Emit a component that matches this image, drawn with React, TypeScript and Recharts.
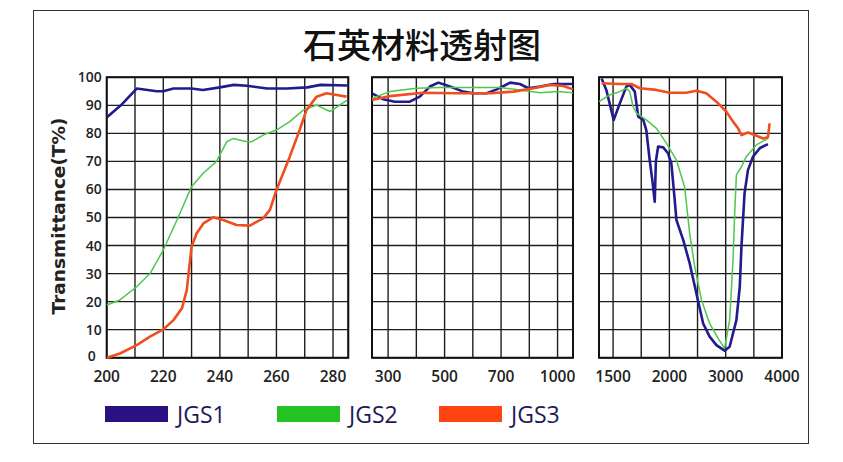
import { CartesianGrid, Line, LineChart, ReferenceArea, XAxis, YAxis } from "recharts";

type Pt = [number, number];

// wavelength (nm) / transmittance (%)
const JGS1_UV: Pt[] = [
  [200, 85.7], [205, 90], [210.6, 96], [217.7, 95], [220, 95], [223.6, 96], [230, 96], [234, 95.5],
  [240, 96.4], [244.9, 97.3], [249.6, 97], [256.7, 96], [263.8, 96], [270.9, 96.4], [275.6, 97.3], [285, 97.1],
];
const JGS2_UV: Pt[] = [
  [200, 18.8], [204.7, 20.6], [210.6, 25.3], [215.3, 30], [220, 38.4], [224.8, 49], [230, 61], [234.1, 65.8],
  [238.8, 70], [242.4, 77], [244.8, 78.2], [249.5, 77], [251.2, 77], [255.3, 79.4], [260, 81.2], [264.7, 84.2],
  [269.5, 88.3], [274.2, 90.1], [278.9, 87.8], [285, 91.9],
];
const JGS3_UV: Pt[] = [
  [200, 0], [204.7, 1.5], [210.6, 4.5], [215.3, 7.5], [220, 10.1], [223.6, 13.4], [226.6, 17.6], [228.3, 24.1],
  [230, 39.6], [231.8, 44.4], [234.2, 47.9], [237.7, 50.1], [241.2, 49.1], [245.9, 47.3], [250.6, 47.1],
  [255.3, 49.7], [257.7, 52.7], [260, 59.8], [264.7, 71.7], [268.2, 81.2], [270.6, 88.3], [274.2, 93.1],
  [277.7, 94.3], [281.3, 93.7], [284.8, 93.1],
];

const JGS1_VIS: Pt[] = [
  [243, 94.3], [282, 92.2], [324, 91.3], [377, 91.3], [412, 93.1], [448, 96.7], [478, 98.1], [519, 96.7],
  [566, 94.9], [602, 94.3], [649, 94.3], [685, 95.7], [748, 98.1], [800, 97.6], [845, 96.1], [907, 96.7],
  [979, 97.6], [1082, 97.6],
];
const JGS2_VIS: Pt[] = [
  [243, 92.5], [306, 94.9], [400, 96.1], [483, 96.4], [602, 96.4], [696, 96.4], [800, 95.5], [907, 94.5],
  [997, 94.9], [1082, 94.5],
];
const JGS3_VIS: Pt[] = [
  [243, 91.9], [306, 93.3], [424, 94.5], [543, 94.3], [662, 94.3], [766, 94.9], [872, 96.1], [961, 97.3],
  [1031, 96.9], [1082, 95.7],
];

const JGS1_IR: Pt[] = [
  [1398, 99.6], [1440, 95.5], [1505, 84.8], [1560, 90.7], [1618, 96.7], [1648, 97.3], [1693, 94.9], [1723, 86],
  [1768, 84.8], [1795, 81.2], [1825, 70.5], [1848, 63.4], [1870, 55.6], [1880, 70], [1900, 75.3], [1945, 75],
  [1988, 72.9], [2035, 69.3], [2095, 56.2], [2125, 49.1], [2245, 42], [2360, 33.7], [2480, 22.9], [2600, 12.2],
  [2715, 7.5], [2835, 4.5], [2980, 2.5], [3070, 3.9], [3190, 13.4], [3250, 25.3], [3280, 39.6], [3335, 58.6],
  [3395, 66.9], [3485, 71.7], [3605, 74.7], [3750, 76.2],
];
const JGS2_IR: Pt[] = [
  [1375, 91.3], [1470, 93.7], [1560, 94.9], [1618, 96.1], [1648, 94.9], [1678, 89.5], [1708, 87.2],
  [1795, 84.8], [1885, 81.8], [1973, 76.5], [2125, 70.5], [2270, 61], [2360, 44.4], [2450, 32.5],
  [2570, 20.6], [2715, 12.2], [2865, 6.9], [2980, 3.3], [3070, 13.4], [3130, 34.8], [3160, 51.5],
  [3190, 65.2], [3280, 68.1], [3365, 71.7], [3545, 75.9], [3750, 78.2],
];
const JGS3_IR: Pt[] = [
  [1398, 97.9], [1560, 97.6], [1663, 97.6], [1738, 96.1], [1885, 95.5], [2005, 94.5], [2300, 94.5],
  [2480, 95.2], [2655, 94.3], [2835, 91.3], [3010, 87.8], [3130, 84.2], [3220, 81.8], [3280, 79.4],
  [3395, 80.3], [3515, 79.4], [3665, 78.2], [3750, 78.6], [3780, 83.6],
];

const UV_GRID = [200, 210, 220, 230, 240, 250, 260, 270, 280];
const UV_LABELS = [200, 220, 240, 260, 280];
const VIS_GRID = [300, 400, 500, 600, 700, 850, 1000];
const VIS_LABELS = [300, 500, 700, 1000];
const IR_GRID = [1500, 1750, 2000, 2500, 3000, 3500, 4000];
const IR_LABELS = [1500, 2000, 3000, 4000];
const Y_TICKS = [0, 10, 20, 30, 40, 50, 60, 70, 80, 90, 100];

const SERIES = [
  { name: "JGS1", line: "#211b8e", swatch: "#2a1080", width: 2.6 },
  { name: "JGS2", line: "#4cc84c", swatch: "#22c322", width: 1.5 },
  { name: "JGS3", line: "#f04e1e", swatch: "#ff4412", width: 2.6 },
];

// the axis breaks are not evenly spaced: map wavelength to grid slots piecewise
function piecewise(stops: number[], slots: number[]) {
  return (w: number) => {
    let i = 0;
    while (i < stops.length - 2 && w > stops[i + 1]) i++;
    const k = (slots[i + 1] - slots[i]) / (stops[i + 1] - stops[i]);
    return slots[i] + (w - stops[i]) * k;
  };
}

const identity = (w: number) => w;
const visPos = piecewise([300, 700, 1000], [0, 4, 6]);
const irPos = piecewise([1500, 2000, 4000], [0, 2, 6]);

const tickFont = { fontSize: 15.5, fill: "#222", fontFamily: "Open Sans", fontWeight: 600 };
const TOP = 60;

// y tick; the "0" sits a little to the left, clear of the "200" below it
function YTick({ x, y, payload, show }: { x?: number; y?: number; payload?: { value: number }; show: boolean }) {
  if (!show || x == null || y == null || !payload) return <g />;
  const v = payload.value;
  return (
    <text
      x={v === 0 ? x - 6 : x}
      y={v === 0 ? y - 2 : y}
      dy="0.355em"
      textAnchor="end"
      fontFamily="Open Sans"
      fontWeight={600}
      fontSize={14}
      fill="#222"
    >
      {v}
    </text>
  );
}

interface PanelProps {
  left: number;
  width: number;
  marginLeft: number;
  marginRight: number;
  yWidth: number;
  showY: boolean;
  domain: [number, number];
  grid: number[];
  labels: number[];
  toX: (w: number) => number;
  lines: Pt[][];
}

function Panel({ left, width, marginLeft, marginRight, yWidth, showY, domain, grid, labels, toX, lines }: PanelProps) {
  const ticks = grid.map(toX);
  const labelAt = new Map(labels.map((l) => [toX(l).toFixed(3), String(l)]));
  const xDomain: [number, number] = [toX(domain[0]), toX(domain[1])];
  return (
    <div style={{ position: "absolute", left, top: TOP }}>
      <LineChart width={width} height={340} margin={{ top: 17.3, right: marginRight, bottom: 12.3, left: marginLeft }}>
        <CartesianGrid stroke="#1e1e1e" strokeWidth={1.4} />
        <XAxis
          type="number"
          dataKey="x"
          domain={xDomain}
          ticks={ticks}
          interval={0}
          allowDataOverflow
          height={30}
          axisLine={false}
          tickLine={false}
          tickSize={0}
          tickMargin={13}
          tick={tickFont}
          tickFormatter={(v: number) => labelAt.get(v.toFixed(3)) ?? ""}
        />
        <YAxis
          type="number"
          domain={[0, 100]}
          ticks={Y_TICKS}
          interval={0}
          width={yWidth}
          axisLine={false}
          tickLine={false}
          tickSize={0}
          tickMargin={5}
          tick={(p: any) => <YTick {...p} show={showY} />}
        />
        <ReferenceArea x1={xDomain[0]} x2={xDomain[1]} y1={0} y2={100} fill="none" stroke="#111" strokeWidth={2} ifOverflow="visible" />
        {lines.map((pts, i) => (
          <Line
            key={SERIES[i].name}
            data={pts.map(([w, t]) => ({ x: toX(w), t }))}
            dataKey="t"
            type="linear"
            dot={false}
            activeDot={false}
            stroke={SERIES[i].line}
            strokeWidth={SERIES[i].width}
            strokeLinejoin="round"
            isAnimationActive={false}
          />
        ))}
      </LineChart>
    </div>
  );
}

export default function App() {
  return (
    <div style={{ position: "absolute", left: 0, top: 0, width: 843, height: 462, background: "#fff", overflow: "hidden" }}>
      <div
        style={{
          position: "absolute",
          left: 33,
          top: 10,
          width: 774,
          height: 432,
          border: "1.5px solid #333",
        }}
      />
      <svg width={843} height={462} style={{ position: "absolute", left: 0, top: 0 }}>
        <text x={422} y={43} textAnchor="middle" dominantBaseline="central" fontFamily="Noto Sans CJK SC" fontWeight={500} fontSize={34} fill="#111">
          石英材料透射图
        </text>
        <text
          x={58}
          y={216}
          transform="rotate(-90 58 216)"
          textAnchor="middle"
          dominantBaseline="central"
          fontFamily="DejaVu Sans"
          fontWeight="bold"
          fontSize={18.5}
          fill="#222"
        >
          Transmittance(T%)
        </text>
      </svg>
      <Panel
        left={0}
        width={353.3}
        marginLeft={0}
        marginRight={5}
        yWidth={106.7}
        showY
        domain={[200, 285.4]}
        grid={UV_GRID}
        labels={UV_LABELS}
        toX={identity}
        lines={[JGS1_UV, JGS2_UV, JGS3_UV]}
      />
      <Panel
        left={340.3}
        width={235}
        marginLeft={2}
        marginRight={2}
        yWidth={30}
        showY={false}
        domain={[243, 1082]}
        grid={VIS_GRID}
        labels={VIS_LABELS}
        toX={visPos}
        lines={[JGS1_VIS, JGS2_VIS, JGS3_VIS]}
      />
      <Panel
        left={567.3}
        width={245}
        marginLeft={2}
        marginRight={30}
        yWidth={30}
        showY={false}
        domain={[1375, 4000]}
        grid={IR_GRID}
        labels={IR_LABELS}
        toX={irPos}
        lines={[JGS1_IR, JGS2_IR, JGS3_IR]}
      />
      <div style={{ position: "absolute", left: 105, top: 399, display: "flex", alignItems: "center", fontFamily: "Open Sans", fontSize: 23, color: "#1e1a5a" }}>
        {SERIES.map((s, i) => (
          <div key={s.name} style={{ display: "flex", alignItems: "center", width: i < 2 ? (i === 0 ? 172 : 162) : undefined }}>
            <span style={{ display: "inline-block", width: 63, height: 16, background: s.swatch, marginRight: 9 }} />
            <span style={{ lineHeight: "30px" }}>{s.name}</span>
          </div>
        ))}
      </div>
    </div>
  );
}
